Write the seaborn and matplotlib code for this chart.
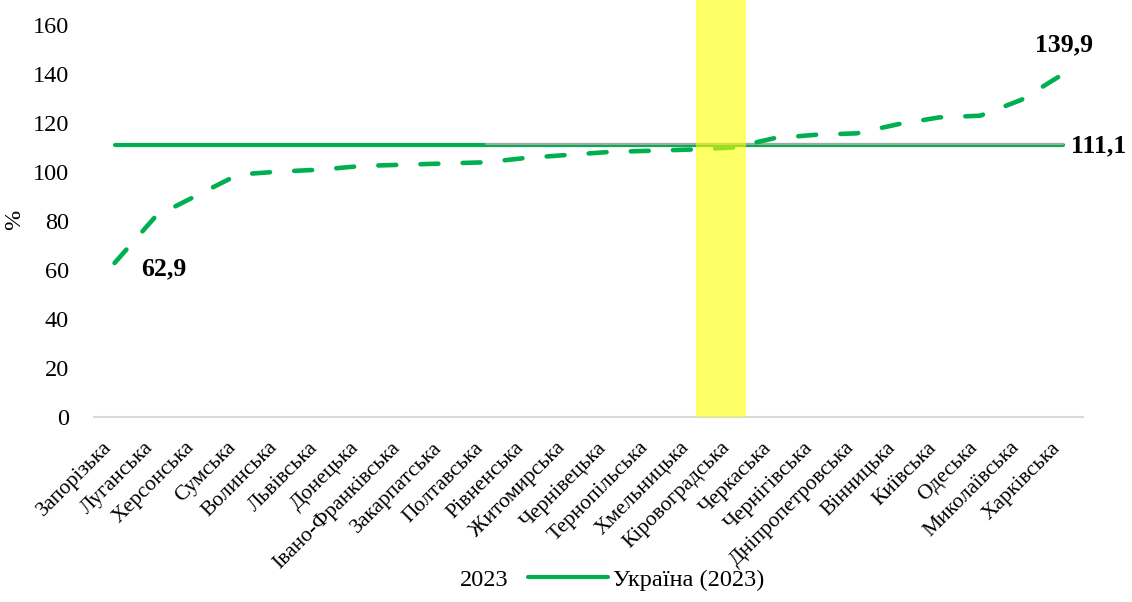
import pandas as pd
import numpy as np
import matplotlib
matplotlib.use('Agg')
import matplotlib.pyplot as plt
import matplotlib.transforms as mtransforms
from matplotlib.lines import Line2D
import seaborn as sns

# Data
regions = ['Запорізька', 'Луганська', 'Херсонська', 'Сумська', 'Волинська', 'Львівська',
           'Донецька', 'Івано-Франківська', 'Закарпатська', 'Полтавська', 'Рівненська',
           'Житомирська', 'Чернівецька', 'Тернопільська', 'Хмельницька', 'Кіровоградська',
           'Черкаська', 'Чернігівська', 'Дніпропетровська', 'Вінницька', 'Київська',
           'Одеська', 'Миколаївська', 'Харківська']
values_2023 = [62.9, 82.0, 90.5, 99.0, 100.2, 101.0, 102.5, 103.0, 103.5, 104.0, 105.8,
               107.0, 108.2, 108.7, 109.2, 110.0, 113.8, 115.2, 115.8, 119.5, 122.3,
               123.0, 129.5, 139.9]
ukraine_2023 = [111.1] * len(regions)
grey_line = [np.nan] * 9 + [111.6] * 15
highlight_region = 'Кіровоградська'

GREEN = '#00B050'
GREY = '#A6A6A6'
YELLOW = '#FFFF00'


def fmt(v):
    return f'{v:.1f}'.replace('.', ',')


def main():
    sns.set_theme(style='white')
    plt.rcParams['font.family'] = ['Liberation Serif', 'DejaVu Serif']
    plt.rcParams['text.color'] = 'black'
    plt.rcParams['axes.labelcolor'] = 'black'
    plt.rcParams['xtick.color'] = 'black'
    plt.rcParams['ytick.color'] = 'black'

    df = pd.DataFrame({'region': regions, 'value': values_2023,
                       'ukraine': ukraine_2023, 'grey': grey_line})

    fig = plt.figure(figsize=(11.32, 6.02), dpi=100)
    ax = fig.add_axes([0.083, 0.307, 0.874, 0.693])

    sns.lineplot(data=df, x='region', y='ukraine', color=GREEN, lw=3.0,
                 solid_capstyle='round', sort=False, ax=ax, zorder=2)
    sns.lineplot(data=df, x='region', y='grey', color=GREY, lw=1.5,
                 sort=False, ax=ax, zorder=3)
    sns.lineplot(data=df, x='region', y='value', color=GREEN, lw=3.3,
                 linestyle=(0, (3.9, 5.3)), dash_capstyle='round',
                 sort=False, ax=ax, zorder=4)

    ax.set_xlim(-0.5, len(regions) - 0.5)
    ax.set_ylim(0, 170.2)
    ax.set_yticks(range(0, 161, 20))

    # yellow highlight column (nudged left a little, like the source)
    bars = ax.bar(highlight_region, ax.get_ylim()[1], width=1.22, color=YELLOW,
                  alpha=0.6, zorder=5, linewidth=0)
    shift = mtransforms.ScaledTranslation(-0.12, 0, fig.dpi_scale_trans)
    for b in bars:
        b.set_transform(ax.transData + shift)

    # data labels
    ax.annotate(fmt(values_2023[0]), (regions[0], values_2023[0]), xytext=(19, -4),
                textcoords='offset points', ha='left', va='center',
                fontsize=18.5, fontweight='bold')
    ax.annotate(fmt(values_2023[-1]), (regions[-1], values_2023[-1]), xytext=(1, 21),
                textcoords='offset points', ha='center', va='center',
                fontsize=18.5, fontweight='bold')
    ax.annotate(fmt(ukraine_2023[-1]), (regions[-1], ukraine_2023[-1]), xytext=(6, -1),
                textcoords='offset points', ha='left', va='center',
                fontsize=18.5, fontweight='bold')

    for s in ['top', 'right', 'left']:
        ax.spines[s].set_visible(False)
    ax.spines['bottom'].set_color('#D9D9D9')
    ax.spines['bottom'].set_linewidth(1.5)
    ax.tick_params(axis='both', length=0)
    ax.tick_params(axis='y', labelsize=17.5, pad=18)
    ax.tick_params(axis='x', labelsize=15.5, pad=8)
    lab_shift = mtransforms.ScaledTranslation(-0.12, -0.1, fig.dpi_scale_trans)
    for lab in ax.get_xticklabels():
        lab.set_rotation(45)
        lab.set_ha('right')
        lab.set_rotation_mode('anchor')
        lab.set_transform(lab.get_transform() + lab_shift)
    ax.set_xlabel('')
    ax.set_ylabel('%', fontsize=17.5)
    ax.yaxis.set_label_coords(-0.07, 0.472)
    ax.grid(False)

    handles = [Line2D([], [], color='none'),
               Line2D([], [], color=GREEN, lw=3.0, solid_capstyle='round')]
    fig.legend(handles, ['2023', 'Україна (2023)'], loc='center',
               bbox_to_anchor=(0.503, 0.037), ncol=2, frameon=False, fontsize=17.5,
               handlelength=3.3, columnspacing=0.8, handletextpad=0.2)

    fig.savefig('out.png', dpi=100)
    plt.close(fig)


if __name__ == '__main__':
    main()
